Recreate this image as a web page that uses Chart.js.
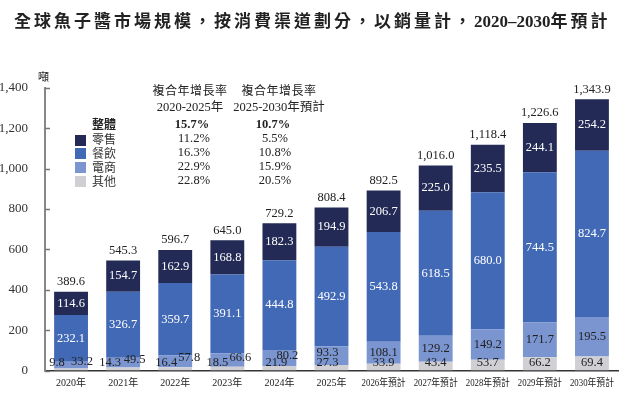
<!DOCTYPE html>
<html>
<head>
<meta charset="utf-8">
<script src="https://cdn.jsdelivr.net/npm/chart.js@4.4.1/dist/chart.umd.min.js"></script>
<style>
  body { margin: 0; background: #fff; overflow: hidden; }
  #wrap { position: relative; width: 636px; height: 396px; }
  #c { position: absolute; left: 0; top: 0; }
  .t { position: absolute; white-space: nowrap; color: #222; line-height: 16px; }
  .cjk { font-family: "Noto Sans CJK TC", sans-serif; }
  .serif { font-family: "Liberation Serif", "Noto Sans CJK TC", serif; }
  .c { transform: translateX(-50%); }
  #title { left: 14px; top: 10px; font-size: 17px; font-weight: bold; letter-spacing: 3px; color: #222; line-height: 20px; }
  #title .num { font-family: "Liberation Serif", serif; letter-spacing: 0; font-size: 17px; }
  .sw { position: absolute; width: 11px; height: 11px; left: 75px; }
</style>
</head>
<body>
<div id="wrap">
  <canvas id="c" width="636" height="396"></canvas>

  <div id="title" class="t cjk">全球魚子醬市場規模，按消費渠道劃分，以銷量計，<span class="num">2020–2030</span>年預計</div>

  <div class="t cjk" style="left:38px; top:68px; font-size:11px;">噸</div>

  <!-- 複合年增長率表 -->
  <div class="t cjk c" style="left:190px; top:82px; font-size:12px; letter-spacing:0.5px;">複合年增長率</div>
  <div class="t cjk c" style="left:279px; top:82px; font-size:12px; letter-spacing:0.5px;">複合年增長率</div>
  <div class="t serif c" style="left:190px; top:99px; font-size:12.5px;">2020-2025年</div>
  <div class="t serif c" style="left:279px; top:99px; font-size:12.5px;">2025-2030年預計</div>

  <div class="t cjk" style="left:92px; top:116px; font-size:12px; font-weight:bold;">整體</div>
  <div class="t serif c" style="left:192px; top:116px; font-size:12.5px; font-weight:bold;">15.7%</div>
  <div class="t serif c" style="left:273px; top:116px; font-size:12.5px; font-weight:bold;">10.7%</div>

  <div class="sw" style="top:135px; background:#222a55;"></div>
  <div class="t cjk" style="left:92px; top:131px; font-size:12px; color:#333;">零售</div>
  <div class="t serif c" style="left:194px; top:130px; font-size:12.5px;">11.2%</div>
  <div class="t serif c" style="left:275px; top:130px; font-size:12.5px;">5.5%</div>

  <div class="sw" style="top:148px; background:#4269b5;"></div>
  <div class="t cjk" style="left:92px; top:145px; font-size:12px; color:#333;">餐飲</div>
  <div class="t serif c" style="left:194px; top:144px; font-size:12.5px;">16.3%</div>
  <div class="t serif c" style="left:275px; top:144px; font-size:12.5px;">10.8%</div>

  <div class="sw" style="top:162px; background:#7b95d1;"></div>
  <div class="t cjk" style="left:92px; top:159px; font-size:12px; color:#333;">電商</div>
  <div class="t serif c" style="left:194px; top:158px; font-size:12.5px;">22.9%</div>
  <div class="t serif c" style="left:275px; top:158px; font-size:12.5px;">15.9%</div>

  <div class="sw" style="top:176px; background:#d0d0d4;"></div>
  <div class="t cjk" style="left:92px; top:173px; font-size:12px; color:#333;">其他</div>
  <div class="t serif c" style="left:194px; top:172px; font-size:12.5px;">22.8%</div>
  <div class="t serif c" style="left:275px; top:172px; font-size:12.5px;">20.5%</div>
</div>

<script>
// 數據（噸）
const years = ['2020年', '2021年', '2022年', '2023年', '2024年', '2025年',
  '2026年預計', '2027年預計', '2028年預計', '2029年預計', '2030年預計'];
const others = [9.8, 14.3, 16.4, 18.5, 21.9, 27.3, 33.9, 43.4, 53.7, 66.2, 69.4];
const ecommerce = [33.2, 49.5, 57.8, 66.6, 80.2, 93.3, 108.1, 129.2, 149.2, 171.7, 195.5];
const foodservice = [232.1, 326.7, 359.7, 391.1, 444.8, 492.9, 543.8, 618.5, 680.0, 744.5, 824.7];
const retail = [114.6, 154.7, 162.9, 168.8, 182.3, 194.9, 206.7, 225.0, 235.5, 244.1, 254.2];
const totals = [389.6, 545.3, 596.7, 645.0, 729.2, 808.4, 892.5, 1016.0, 1118.4, 1226.6, 1343.9];
const yTicks = [0, 200, 400, 600, 800, 1000, 1200, 1400];

const NUM_FONT = '12.5px "Liberation Serif", serif';

// 小數值標籤的偏移 (2020-2025)：[其他 dx, 電商 dx, 電商 y]
const smallLabelPos = [
  [-14, 11, 362], [-13, 11.5, 360], [-9, 14, 358], [-10, 13, 358], [-3, 8, 356], [-4, -4, 353]
];

const labelPlugin = {
  id: 'labels',
  afterDatasetsDraw(chart) {
    const ctx = chart.ctx;
    ctx.save();
    ctx.font = NUM_FONT;
    ctx.textAlign = 'center';
    ctx.textBaseline = 'middle';
    chart.data.datasets.forEach((ds, di) => {
      const meta = chart.getDatasetMeta(di);
      meta.data.forEach((bar, i) => {
        const v = ds.data[i];
        const mid = (bar.y + bar.base) / 2;
        const txt = v.toFixed(1);
        if (di >= 2) {
          ctx.fillStyle = '#fff';
          ctx.fillText(txt, bar.x, mid);
        } else if (di === 1) {
          ctx.fillStyle = '#222';
          if (i < smallLabelPos.length) ctx.fillText(txt, bar.x + smallLabelPos[i][1], smallLabelPos[i][2]);
          else ctx.fillText(txt, bar.x, mid);
        } else {
          ctx.fillStyle = '#222';
          const dx = i < smallLabelPos.length ? smallLabelPos[i][0] : 0;
          ctx.fillText(txt, bar.x + dx, Math.min(mid, 363));
        }
      });
    });
    // 總計
    const top = chart.getDatasetMeta(3);
    ctx.fillStyle = '#222';
    top.data.forEach((bar, i) => {
      const t = totals[i].toLocaleString('en-US', { minimumFractionDigits: 1, maximumFractionDigits: 1 });
      ctx.fillText(t, bar.x, bar.y - 10);
    });
    ctx.restore();
  }
};

// y 軸刻度線向內 + x 軸標籤（較窄）
const axisExtras = {
  id: 'axisExtras',
  afterDraw(chart) {
    const y = chart.scales.y;
    const x = chart.scales.x;
    const ctx = chart.ctx;
    ctx.save();
    ctx.strokeStyle = '#777';
    ctx.lineWidth = 1.5;
    y.ticks.forEach(tk => {
      const py = Math.round(y.getPixelForValue(tk.value)) + 0.5;
      ctx.beginPath();
      ctx.moveTo(y.right, py);
      ctx.lineTo(y.right + 5, py);
      ctx.stroke();
    });
    ctx.font = '10px "Liberation Serif", "Noto Sans CJK TC", serif';
    ctx.fillStyle = '#222';
    ctx.textAlign = 'center';
    ctx.textBaseline = 'middle';
    chart.data.labels.forEach((lb, i) => {
      ctx.fillText(lb, x.getPixelForTick(i), x.top + 13, 44);
    });
    ctx.restore();
  }
};

new Chart(document.getElementById('c'), {
  type: 'bar',
  data: {
    labels: years,
    datasets: [
      { label: '其他', data: others, backgroundColor: '#d0d0d4' },
      { label: '電商', data: ecommerce, backgroundColor: '#7b95d1' },
      { label: '餐飲', data: foodservice, backgroundColor: '#4269b5' },
      { label: '零售', data: retail, backgroundColor: '#222a55' }
    ]
  },
  options: {
    responsive: false,
    animation: false,
    layout: { padding: { top: 88, right: 18, left: 0, bottom: 0 } },
    datasets: { bar: { barPercentage: 0.65, categoryPercentage: 1 } },
    plugins: { legend: { display: false }, tooltip: { enabled: false } },
    scales: {
      x: {
        stacked: true,
        grid: { display: false },
        border: { display: true, color: '#333', width: 1.5 },
        ticks: { display: false },
        afterFit(s) { s.height = 25.5; }
      },
      y: {
        stacked: true,
        min: 0, max: 1400,
        grid: { display: false },
        border: { display: true, color: '#888', width: 2 },
        afterBuildTicks(s) { s.ticks = yTicks.map(v => ({ value: v })); },
        ticks: {
          padding: 9, color: '#333',
          font: { family: '"Liberation Serif", serif', size: 13 },
          callback: v => v.toLocaleString('en-US')
        },
        afterFit(s) { s.width = 45; }
      }
    }
  },
  plugins: [labelPlugin, axisExtras]
});
</script>
</body>
</html>
